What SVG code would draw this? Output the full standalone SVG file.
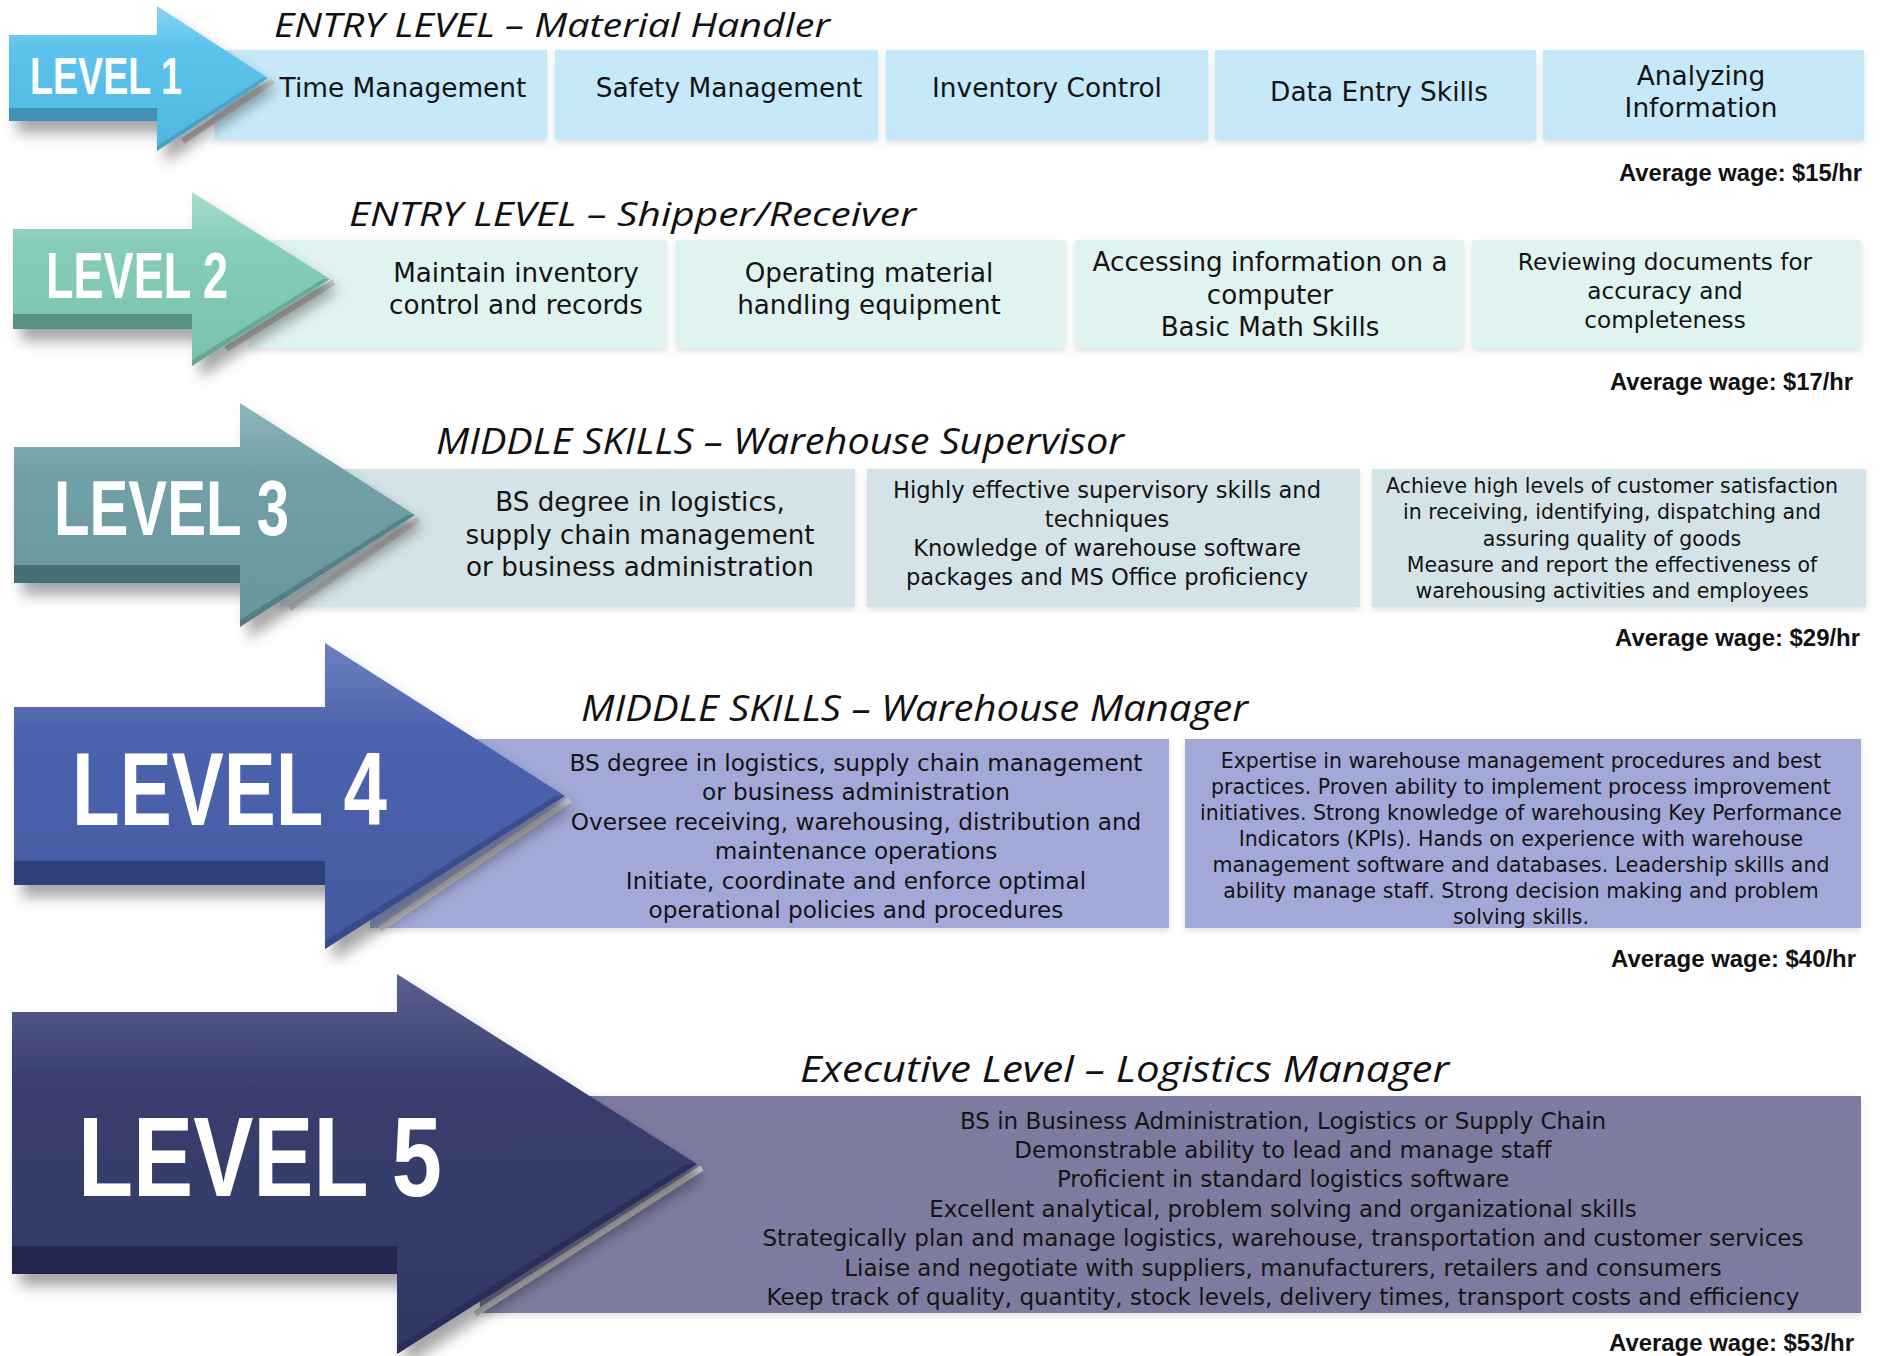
<svg xmlns="http://www.w3.org/2000/svg" width="1885" height="1356" viewBox="0 0 1885 1356">
<style>
.title{font-family:"Open Sans","Liberation Sans",sans-serif;font-style:italic;fill:#111;}
.lbl{font-family:"Liberation Sans","DejaVu Sans",sans-serif;font-weight:bold;fill:#fff;}
.t{font-family:"DejaVu Sans","Open Sans",sans-serif;fill:#141414;text-anchor:middle;}
.wage{font-family:"Liberation Sans","DejaVu Sans",sans-serif;font-weight:bold;fill:#111;font-size:24px;}
.strip{stroke:#c9c9c9;stroke-width:6;fill:none;}
</style>
<defs>
<filter id="ash" x="-10%" y="-10%" width="130%" height="140%">
<feDropShadow dx="8" dy="12" stdDeviation="7" flood-color="#000" flood-opacity="0.35"/>
</filter>
<filter id="bsh" x="-5%" y="-10%" width="110%" height="130%">
<feDropShadow dx="0" dy="3" stdDeviation="3" flood-color="#000" flood-opacity="0.12"/>
</filter>
<linearGradient id="g1" x1="0" y1="0" x2="0" y2="1"><stop offset="0" stop-color="#86d4f3"/><stop offset="0.3" stop-color="#5cc3ec"/><stop offset="1" stop-color="#4fb6df"/></linearGradient>
<linearGradient id="g2" x1="0" y1="0" x2="0" y2="1"><stop offset="0" stop-color="#a6dccc"/><stop offset="0.3" stop-color="#86cdb9"/><stop offset="1" stop-color="#7bc2ae"/></linearGradient>
<linearGradient id="g3" x1="0" y1="0" x2="0" y2="1"><stop offset="0" stop-color="#8fb6bb"/><stop offset="0.3" stop-color="#71a1a7"/><stop offset="1" stop-color="#66959b"/></linearGradient>
<linearGradient id="g4" x1="0" y1="0" x2="0" y2="1"><stop offset="0" stop-color="#6d80c0"/><stop offset="0.3" stop-color="#4b63ae"/><stop offset="1" stop-color="#4459a1"/></linearGradient>
<linearGradient id="g5" x1="0" y1="0" x2="0" y2="1"><stop offset="0" stop-color="#5a6090"/><stop offset="0.3" stop-color="#383e6e"/><stop offset="1" stop-color="#323865"/></linearGradient>
</defs>
<rect width="1885" height="1356" fill="#fff"/>

<g id="level1">
<g filter="url(#bsh)" fill="#c6e9f9">
<rect x="215" y="50" width="332" height="90"/>
<rect x="555" y="50" width="323" height="90"/>
<rect x="886" y="50" width="322" height="90"/>
<rect x="1215" y="50" width="321" height="90"/>
<rect x="1543" y="50" width="321" height="90"/>
</g>
<line class="strip" x1="273" y1="81" x2="183" y2="141"/>
<path filter="url(#ash)" fill="url(#g1)" d="M9,35 L157,35 L157,6 L268,78 L157,151 L157,121 L9,121 Z"/>
<rect x="9" y="108" width="148" height="13" fill="#3f89ad" opacity="0.85"/>
<path d="M157,151 L268,78 L262,78 L157,146 Z" fill="#3f89ad" opacity="0.5"/>
<text class="lbl" x="30" y="94" font-size="52" textLength="152" lengthAdjust="spacingAndGlyphs">LEVEL 1</text>
<text class="title" x="274" y="37" font-size="32" textLength="556" lengthAdjust="spacingAndGlyphs">ENTRY LEVEL – Material Handler</text>
<text class="t" font-size="26.4" x="403" y="97">Time Management</text>
<text class="t" font-size="26.4" x="729" y="97">Safety Management</text>
<text class="t" font-size="26.4" x="1047" y="97">Inventory Control</text>
<text class="t" font-size="26.4" x="1379" y="101">Data Entry Skills</text>
<text class="t" font-size="26.4" x="1701" y="85">Analyzing</text>
<text class="t" font-size="26.4" x="1701" y="117">Information</text>
<text class="wage" x="1619" y="181" textLength="243" lengthAdjust="spacingAndGlyphs">Average wage: $15/hr</text>
</g>

<g id="level2">
<g filter="url(#bsh)" fill="#e1f3f1">
<rect x="250" y="240" width="417" height="108"/>
<rect x="676" y="240" width="390" height="108"/>
<rect x="1075" y="240" width="389" height="108"/>
<rect x="1472" y="240" width="389" height="108"/>
</g>
<line class="strip" x1="334" y1="282" x2="226" y2="349"/>
<path filter="url(#ash)" fill="url(#g2)" d="M13,229 L192,229 L192,192 L330,279 L192,366 L192,329 L13,329 Z"/>
<rect x="13" y="314" width="179" height="15" fill="#4f8a7b" opacity="0.85"/>
<path d="M192,366 L330,279 L323,279 L192,360 Z" fill="#4f8a7b" opacity="0.5"/>
<text class="lbl" x="46" y="298" font-size="64" textLength="182" lengthAdjust="spacingAndGlyphs">LEVEL 2</text>
<text class="title" x="349" y="226" font-size="32" textLength="567" lengthAdjust="spacingAndGlyphs">ENTRY LEVEL – Shipper/Receiver</text>
<text class="t" font-size="26.2" x="516" y="282">Maintain inventory</text>
<text class="t" font-size="26.2" x="516" y="314">control and records</text>
<text class="t" font-size="26.2" x="869" y="282">Operating material</text>
<text class="t" font-size="26.2" x="869" y="314">handling equipment</text>
<text class="t" font-size="26.2" x="1270" y="271">Accessing information on a</text>
<text class="t" font-size="26.2" x="1270" y="304">computer</text>
<text class="t" font-size="26.2" x="1270" y="336">Basic Math Skills</text>
<text class="t" font-size="23.2" x="1665" y="270">Reviewing documents for</text>
<text class="t" font-size="23.2" x="1665" y="299">accuracy and</text>
<text class="t" font-size="23.2" x="1665" y="328">completeness</text>
<text class="wage" x="1610" y="390" textLength="243" lengthAdjust="spacingAndGlyphs">Average wage: $17/hr</text>
</g>

<g id="level3">
<g filter="url(#bsh)" fill="#d4e3e7">
<rect x="280" y="469" width="575" height="138"/>
<rect x="867" y="469" width="493" height="138"/>
<rect x="1372" y="469" width="494" height="138"/>
</g>
<line class="strip" x1="419" y1="519" x2="290" y2="608"/>
<path filter="url(#ash)" fill="url(#g3)" d="M14,447 L240,447 L240,403 L415,515 L240,627 L240,583 L14,583 Z"/>
<rect x="14" y="565" width="226" height="18" fill="#3f676c" opacity="0.85"/>
<path d="M240,627 L415,515 L407,515 L240,620 Z" fill="#3f676c" opacity="0.5"/>
<text class="lbl" x="54" y="535" font-size="78" textLength="235" lengthAdjust="spacingAndGlyphs">LEVEL 3</text>
<text class="title" x="436" y="454" font-size="36" textLength="688" lengthAdjust="spacingAndGlyphs">MIDDLE SKILLS – Warehouse Supervisor</text>
<text class="t" font-size="26.2" x="640" y="511">BS degree in logistics,</text>
<text class="t" font-size="26.2" x="640" y="544">supply chain management</text>
<text class="t" font-size="26.2" x="640" y="576">or business administration</text>
<text class="t" font-size="22.6" x="1107" y="498">Highly effective supervisory skills and</text>
<text class="t" font-size="22.6" x="1107" y="527">techniques</text>
<text class="t" font-size="22.6" x="1107" y="556">Knowledge of warehouse software</text>
<text class="t" font-size="22.6" x="1107" y="585">packages and MS Office proficiency</text>
<text class="t" font-size="20.5" x="1612" y="493">Achieve high levels of customer satisfaction</text>
<text class="t" font-size="20.5" x="1612" y="519">in receiving, identifying, dispatching and</text>
<text class="t" font-size="20.5" x="1612" y="546">assuring quality of goods</text>
<text class="t" font-size="20.5" x="1612" y="572">Measure and report the effectiveness of</text>
<text class="t" font-size="20.5" x="1612" y="598">warehousing activities and employees</text>
<text class="wage" x="1615" y="646" textLength="245" lengthAdjust="spacingAndGlyphs">Average wage: $29/hr</text>
</g>

<g id="level4">
<g filter="url(#bsh)" fill="#a2a9d8">
<rect x="370" y="739" width="799" height="189"/>
<rect x="1185" y="739" width="676" height="189"/>
</g>
<line class="strip" x1="570" y1="800" x2="380" y2="929"/>
<path filter="url(#ash)" fill="url(#g4)" d="M14,707 L325,707 L325,643 L565,796 L325,949 L325,885 L14,885 Z"/>
<rect x="14" y="861" width="311" height="24" fill="#2b3b72" opacity="0.85"/>
<path d="M325,949 L565,796 L555,796 L325,941 Z" fill="#2b3b72" opacity="0.5"/>
<text class="lbl" x="72" y="825" font-size="104" textLength="315" lengthAdjust="spacingAndGlyphs">LEVEL 4</text>
<text class="title" x="581" y="721" font-size="36" textLength="667" lengthAdjust="spacingAndGlyphs">MIDDLE SKILLS – Warehouse Manager</text>
<text class="t" font-size="23.2" x="856" y="771">BS degree in logistics, supply chain management</text>
<text class="t" font-size="23.2" x="856" y="800">or business administration</text>
<text class="t" font-size="23.2" x="856" y="830">Oversee receiving, warehousing, distribution and</text>
<text class="t" font-size="23.2" x="856" y="859">maintenance operations</text>
<text class="t" font-size="23.2" x="856" y="889">Initiate, coordinate and enforce optimal</text>
<text class="t" font-size="23.2" x="856" y="918">operational policies and procedures</text>
<text class="t" font-size="20.5" x="1521" y="768">Expertise in warehouse management procedures and best</text>
<text class="t" font-size="20.5" x="1521" y="794">practices. Proven ability to implement process improvement</text>
<text class="t" font-size="20.5" x="1521" y="820">initiatives. Strong knowledge of warehousing Key Performance</text>
<text class="t" font-size="20.5" x="1521" y="846">Indicators (KPIs). Hands on experience with warehouse</text>
<text class="t" font-size="20.5" x="1521" y="872">management software and databases. Leadership skills and</text>
<text class="t" font-size="20.5" x="1521" y="898">ability manage staff. Strong decision making and problem</text>
<text class="t" font-size="20.5" x="1521" y="924">solving skills.</text>
<text class="wage" x="1611" y="967" textLength="245" lengthAdjust="spacingAndGlyphs">Average wage: $40/hr</text>
</g>

<g id="level5">
<g filter="url(#bsh)" fill="#7d7ca0">
<rect x="480" y="1096" width="1381" height="217"/>
</g>
<line class="strip" x1="702" y1="1168" x2="475" y2="1314"/>
<path filter="url(#ash)" fill="url(#g5)" d="M12,1012 L397,1012 L397,974 L697,1164 L397,1354 L397,1274 L12,1274 Z"/>
<rect x="12" y="1246" width="385" height="28" fill="#20244a" opacity="0.85"/>
<path d="M397,1354 L697,1164 L686,1164 L397,1346 Z" fill="#20244a" opacity="0.5"/>
<text class="lbl" x="78" y="1196" font-size="114" textLength="364" lengthAdjust="spacingAndGlyphs">LEVEL 5</text>
<text class="title" x="800" y="1082" font-size="36" textLength="649" lengthAdjust="spacingAndGlyphs">Executive Level – Logistics Manager</text>
<text class="t" font-size="23" x="1283" y="1129">BS in Business Administration, Logistics or Supply Chain</text>
<text class="t" font-size="23" x="1283" y="1158">Demonstrable ability to lead and manage staff</text>
<text class="t" font-size="23" x="1283" y="1187">Proficient in standard logistics software</text>
<text class="t" font-size="23" x="1283" y="1217">Excellent analytical, problem solving and organizational skills</text>
<text class="t" font-size="23" x="1283" y="1246">Strategically plan and manage logistics, warehouse, transportation and customer services</text>
<text class="t" font-size="23" x="1283" y="1276">Liaise and negotiate with suppliers, manufacturers, retailers and consumers</text>
<text class="t" font-size="23" x="1283" y="1305">Keep track of quality, quantity, stock levels, delivery times, transport costs and efficiency</text>
<text class="wage" x="1609" y="1351" textLength="245" lengthAdjust="spacingAndGlyphs">Average wage: $53/hr</text>
</g>

<g id="connectors"/>
</svg>
